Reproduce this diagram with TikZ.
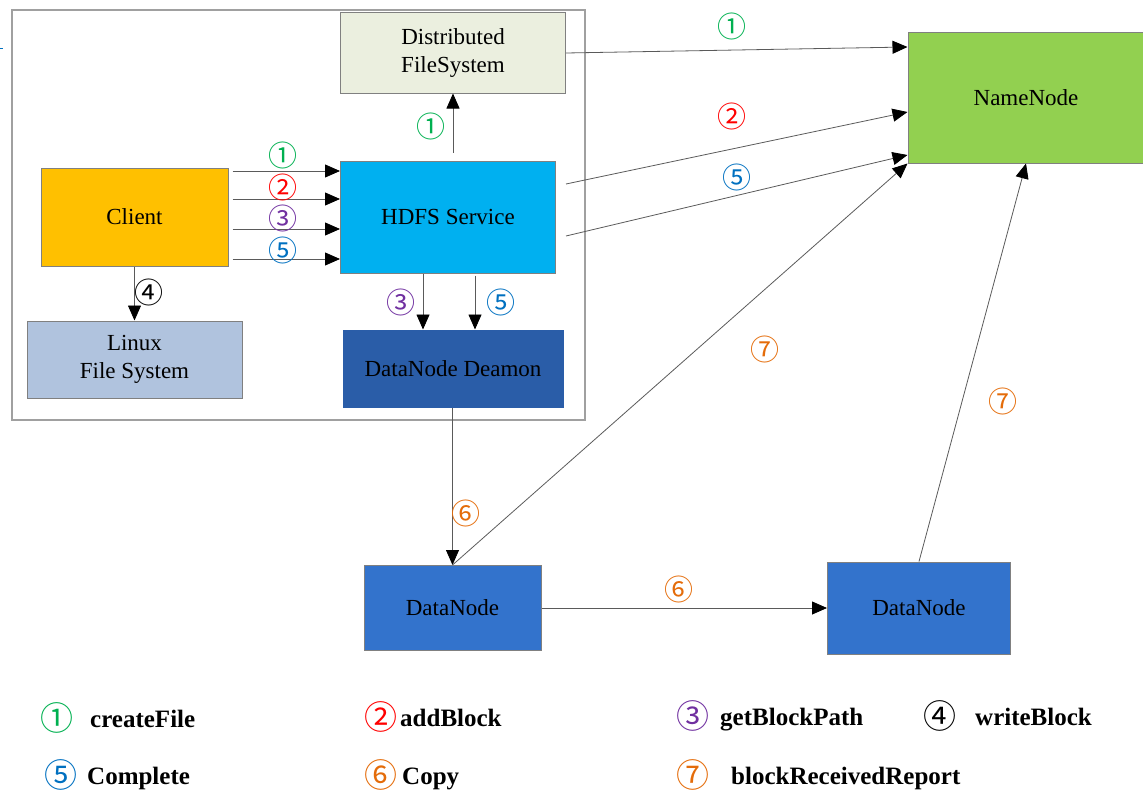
\documentclass[tikz,border=0pt]{standalone}
\usepackage{fontspec}
\setmainfont{Liberation Serif}
\newfontfamily\circfont{Noto Sans CJK SC}
\usetikzlibrary{arrows.meta}
\definecolor{linegray}{HTML}{5A5A5A}
\definecolor{boxgray}{HTML}{808080}
\definecolor{framegray}{HTML}{A0A0A0}
\definecolor{cgreen}{HTML}{00B050}
\definecolor{cred}{HTML}{FF0000}
\definecolor{cpurple}{HTML}{7030A0}
\definecolor{cblue}{HTML}{0070C0}
\definecolor{corange}{HTML}{E46C0A}
\definecolor{dfsfill}{HTML}{EBEFDF}
\definecolor{clientfill}{HTML}{FFC000}
\definecolor{hdfsfill}{HTML}{00B0F0}
\definecolor{linuxfill}{HTML}{B0C3DE}
\definecolor{deamonfill}{HTML}{2A5DA8}
\definecolor{namefill}{HTML}{92D050}
\definecolor{datafill}{HTML}{3373CC}
\tikzset{
  box/.style={draw=boxgray, line width=1pt, inner sep=0pt, align=center, font=\fontsize{23}{28}\selectfont},
  flow/.style={draw=linegray, line width=.8pt, -{Triangle[length=15pt,width=13pt,color=black]}},
  num/.style={inner sep=0pt, font=\circfont\fontsize{29}{29}\selectfont},
  keynum/.style={inner sep=0pt, font=\circfont\fontsize{33}{33}\selectfont},
  keytext/.style={anchor=base west, inner sep=0pt, font=\fontsize{25}{25}\selectfont\bfseries}
}
\begin{document}
\begin{tikzpicture}[x=1pt,y=-1pt]
\useasboundingbox (0,0) rectangle (1143,792);
\draw[framegray, line width=1.2pt](12,10) rectangle (585,420);
\draw[cblue](0,48)--(3,48);

% boxes
\node[box, fill=dfsfill, minimum width=225pt, minimum height=80pt](dfs) at (453,53){Distributed\\FileSystem};
\node[box, fill=clientfill, minimum width=187pt, minimum height=98pt](client) at (134.5,217){Client};
\node[box, fill=hdfsfill, minimum width=215pt, minimum height=112pt](hdfs) at (448,217){HDFS Service};
\node[box, fill=linuxfill, minimum width=215pt, minimum height=77pt](linux) at (134.5,359.5){Linux\\File System};
\node[box, fill=deamonfill, draw=deamonfill, minimum width=220pt, minimum height=77pt](deamon) at (453,368.5){DataNode Deamon};
\node[box, fill=namefill, minimum width=236pt, minimum height=130pt](namenode) at (1026,98){NameNode};
\node[box, fill=datafill, minimum width=177pt, minimum height=85pt](dnA) at (452.5,608){DataNode};
\node[box, fill=datafill, minimum width=183pt, minimum height=92pt](dnB) at (919,608){DataNode};

% connectors
\foreach \y in {171,199,229,259}
{
    \draw[flow]([xshift=4pt]client.east |- 0,\y)--(hdfs.west |- 0,\y);
}
\draw[flow]([yshift=8pt]dfs.south |- hdfs.north)--(dfs.south);
\draw[flow](client.south)--(client.south |- linux.north);
\draw[flow](hdfs.south -| 423,0)--(deamon.north -| 423,0);
\draw[flow]([yshift=-2pt]hdfs.south -| 475,0)--(deamon.north -| 475,0);
\draw[flow](dfs.east)--(namenode.west |- 0,47);
\draw[flow]([xshift=10pt]hdfs.east |- 0,184)--(namenode.west |- 0,112);
\draw[flow]([xshift=10pt]hdfs.east |- 0,236)--(namenode.west |- 0,155);
\draw[flow](deamon.south -| dnA.north)--(dnA.north);
\draw[flow](dnA.north)--(namenode.south west);
\draw[flow](dnA.east)--(dnB.west |- dnA.east);
\draw[flow](dnB.north)--(namenode.south);

% step numbers
\foreach \x/\y/\c/\t [count=\i] in {283/155/cgreen/①, 283/187/cred/②, 283/218/cpurple/③, 283/250/cblue/⑤,
    431/126/cgreen/①, 149/292/black/④, 401/302/cpurple/③, 501/302/cblue/⑤,
    732/26/cgreen/①, 732/116/cred/②, 737/177/cblue/⑤,
    466/513/corange/⑥, 679/589/corange/⑥, 765/349/corange/⑦, 1003/401/corange/⑦}
{
    \node[num, text=\c](lab\i) at (\x,\y){\t};
}

% legend
\foreach \cx/\cy/\c/\t/\tx/\s [count=\i] in {57/718/cgreen/①/90/createFile, 381/717/cred/②/400/addBlock,
    693/716/cpurple/③/720/getBlockPath, 940/716/black/④/975/writeBlock,
    61/775/cblue/⑤/87/Complete, 381/775/corange/⑥/402/Copy, 693/775/corange/⑦/731/blockReceivedReport}
{
    \node[keynum, text=\c](key\i) at (\cx,\cy){\t};
    \node[keytext](keytext\i) at (\tx,\cy+9){\s};
}
\end{tikzpicture}
\end{document}
